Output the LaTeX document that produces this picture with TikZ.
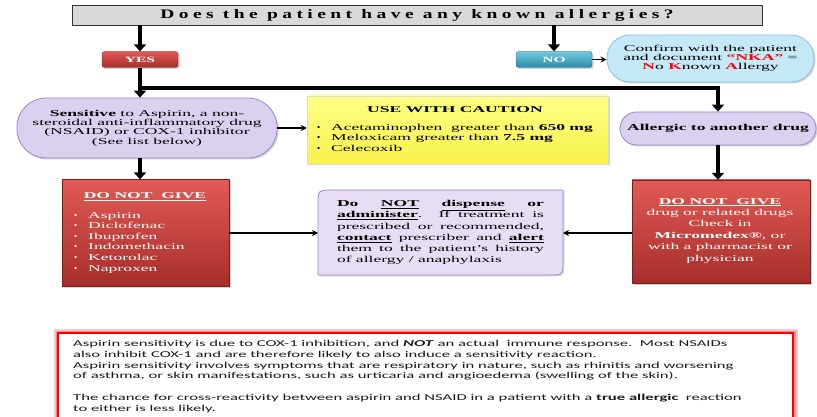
\documentclass[tikz,border=0pt]{standalone}
\usepackage{fontspec}
\setmainfont{Liberation Serif}[FakeStretch=1.95]
\newfontfamily\titlefont{Liberation Serif}[FakeStretch=1.5,LetterSpace=34]
\newfontfamily\botfont{Carlito}[FakeStretch=1.85]
\newfontfamily\bulfont{Liberation Serif}
\newcommand{\bul}{\makebox[14pt][l]{\bulfont\textbullet}}
\usetikzlibrary{arrows.meta,shadows,calc}
\definecolor{topgray}{HTML}{D9D9D9}
\definecolor{redtop}{HTML}{E25A55}
\definecolor{redbot}{HTML}{A52E2A}
\definecolor{cyantop}{HTML}{6FC8DE}
\definecolor{cyanbot}{HTML}{2C8BA8}
\definecolor{lightblue}{HTML}{C6E9F8}
\definecolor{lbborder}{HTML}{86C4E0}
\definecolor{lav}{HTML}{DCD0F0}
\definecolor{lavborder}{HTML}{9A86C8}
\definecolor{midlav}{HTML}{E7DEF6}
\definecolor{yeltop}{HTML}{FFFF85}
\definecolor{yelbot}{HTML}{F7F24C}
\definecolor{botred}{HTML}{FF0000}
\begin{document}
\begin{tikzpicture}[x=1pt,y=-1pt,
  shad/.style={drop shadow={shadow xshift=1.5pt,shadow yshift=-1.5pt,opacity=.35}},
  topbox/.style={draw=black!80,line width=0.8pt,fill=topgray,minimum width=690pt,minimum height=20pt,inner sep=0pt},
  redbtn/.style={rounded corners=2.5pt,top color=redtop,bottom color=redbot,draw=redbot!80!black,line width=0.3pt,minimum width=76pt,minimum height=16pt,inner sep=0pt,text=white,font=\fontsize{8}{9}\selectfont\bfseries,shad},
  bluebtn/.style={redbtn,top color=cyantop,bottom color=cyanbot,draw=cyanbot!80!black},
  pill/.style={fill=lav,draw=lavborder,line width=0.8pt,inner sep=0pt,align=center,shad},
  redbox/.style={top color=redtop,bottom color=redbot,draw=redbot!70!black,line width=0.3pt,inner sep=0pt,shad},
  wtext/.style={text=white,inner sep=0pt},
  tharrow/.style={line width=4.5pt,-{Triangle[width=12pt,length=7pt]}},
  thinarrow/.style={line width=1.3pt,-{Stealth[length=6pt,width=6pt]}},
  txt/.style={inner sep=0pt,font=\fontsize{9}{9.4}\selectfont}
]
\useasboundingbox (0,0) rectangle (817,417);
\clip (0,0) rectangle (817,417);

% top question
\node[topbox] (q) at (417,15) {\titlefont\fontsize{13}{14}\selectfont\bfseries Does the patient have any known allergies?};

% YES / NO
\node[redbtn] (yes) at (140,59.5) {YES};
\node[bluebtn] (no) at (554,59.5) {NO};

% confirm
\node[fill=lightblue,draw=lbborder,line width=0.8pt,rounded corners=23pt,minimum width=207pt,minimum height=47pt,inner sep=0pt,align=center,font=\fontsize{9}{9}\selectfont,shad] (conf) at (710.5,58.5)
 {Confirm with the patient\\and document \textcolor{red}{\textbf{``NKA''}} =\\\textcolor{red}{\textbf{N}}o \textcolor{red}{\textbf{K}}nown \textcolor{red}{\textbf{A}}llergy};

% sensitive
\node[pill,rounded corners=29pt,minimum width=260pt,minimum height=60pt,font=\fontsize{9}{9.4}\selectfont] (sens) at (147,128)
 {\textbf{Sensitive} to Aspirin, a non-\\steroidal anti-inflammatory drug\\(NSAID) or COX-1 inhibitor\\(See list below)};

% caution
\node[top color=yeltop,bottom color=yelbot,draw=black!15,line width=0.5pt,minimum width=301pt,minimum height=68pt,inner sep=0pt,shad] (caut) at (457.5,130) {};
\node[txt,font=\fontsize{9}{10}\selectfont\bfseries] (cautT) at (455,110) {USE WITH CAUTION};
\node[txt,anchor=north west,align=left,font=\fontsize{9}{10.5}\selectfont] (cautL) at (317,124)
 {\bul Acetaminophen\ \ greater than \textbf{650 mg}\\
  \bul Meloxicam greater than \textbf{7.5 mg}\\
  \bul Celecoxib};

% allergic
\node[pill,rounded corners=16.5pt,minimum width=196pt,minimum height=33pt,font=\fontsize{9}{10}\selectfont\bfseries] (al) at (718,128.5) {Allergic to another drug};

% left red box
\node[redbox,minimum width=167pt,minimum height=107pt] (lr) at (145.5,233) {};
\node[wtext,font=\fontsize{9}{10}\selectfont\bfseries] (lrT) at (145,197) {\underline{DO NOT\ \ GIVE}};
\node[wtext,anchor=north west,align=left,font=\fontsize{9}{10.6}\selectfont] (lrL) at (74,212)
 {\bul Aspirin\\
  \bul Diclofenac\\
  \bul Ibuprofen\\
  \bul Indomethacin\\
  \bul Ketorolac\\
  \bul Naproxen};

% middle box
\fill[midlav,draw=lavborder,line width=0.8pt,drop shadow={shadow xshift=1.5pt,shadow yshift=-1.5pt,opacity=.3}]
  (318,275) -- (318,205) .. controls (318,190) .. (333,190) -- (563,190) -- (563,260) .. controls (563,275) .. (548,275) -- cycle;
\node[txt,text width=207pt,align=justify,font=\fontsize{9}{11.2}\selectfont,minimum width=245pt,minimum height=85pt] (mid) at (440.5,232.5)
 {\textbf{Do} \underline{\textbf{NOT}} \underline{\textbf{dispense}} \textbf{or}\linebreak
  \underline{\textbf{administer}}. If treatment is\linebreak
  prescribed or recommended,\linebreak
  \underline{\textbf{contact}} prescriber and \underline{\textbf{alert}}\linebreak
  them to the patient’s history\linebreak
  of allergy / anaphylaxis};

% right red box
\node[redbox,minimum width=178pt,minimum height=103pt] (rr) at (721,231.5) {};
\node[wtext,align=center,font=\fontsize{9}{11.4}\selectfont] (rrT) at (720,230.5)
 {\underline{\textbf{DO NOT\ \ GIVE}}\\drug or related drugs\\Check in\\\textbf{Micromedex®}, or\\with a pharmacist or\\physician};

% bottom note
\draw[botred!22,line width=9pt] (58,333) rectangle (793,450);
\draw[botred!45,line width=5pt] (58,333) rectangle (793,450);
\fill[white] (58,333) rectangle (793,450);
\draw[botred,line width=2.5pt] (58,333) rectangle (793,450);
\node[inner sep=0pt,anchor=north west,align=left,text=black!90,font=\botfont\fontsize{9}{10.8}\selectfont] (note) at (73,340)
 {Aspirin sensitivity is due to COX-1 inhibition, and \textbf{\textit{NOT}} an actual\ \ immune response.\ \ Most NSAIDs\\
  also inhibit COX-1 and are therefore likely to also induce a sensitivity reaction.\\
  Aspirin sensitivity involves symptoms that are respiratory in nature, such as rhinitis and worsening\\
  of asthma, or skin manifestations, such as urticaria and angioedema (swelling of the skin).\\[10.8pt]
  The chance for cross-reactivity between aspirin and NSAID in a patient with a \textbf{true allergic}\ \ reaction\\
  to either is less likely.};

% connectors
\draw[tharrow] (q.south -| yes) -- (yes.north);
\draw[tharrow] (q.south -| no) -- (no.north);
\draw[thinarrow] (no.east) -- (conf.west |- no.east);
\draw[tharrow] (yes.south) -- (yes.south |- sens.north);
\coordinate (j) at (140,88);
\draw[tharrow] (j) -| (al.north);
\draw[thinarrow] (sens.east) -- (caut.west |- sens.east);
\draw[tharrow] (sens.south -| yes) -- (yes |- lr.north);
\draw[tharrow] (al.south) -- (al.south |- rr.north);
\draw[thinarrow] (lr.east) -- (318,233);
\draw[thinarrow] (rr.west |- lr.east) -- (563,233);
\end{tikzpicture}
\end{document}
